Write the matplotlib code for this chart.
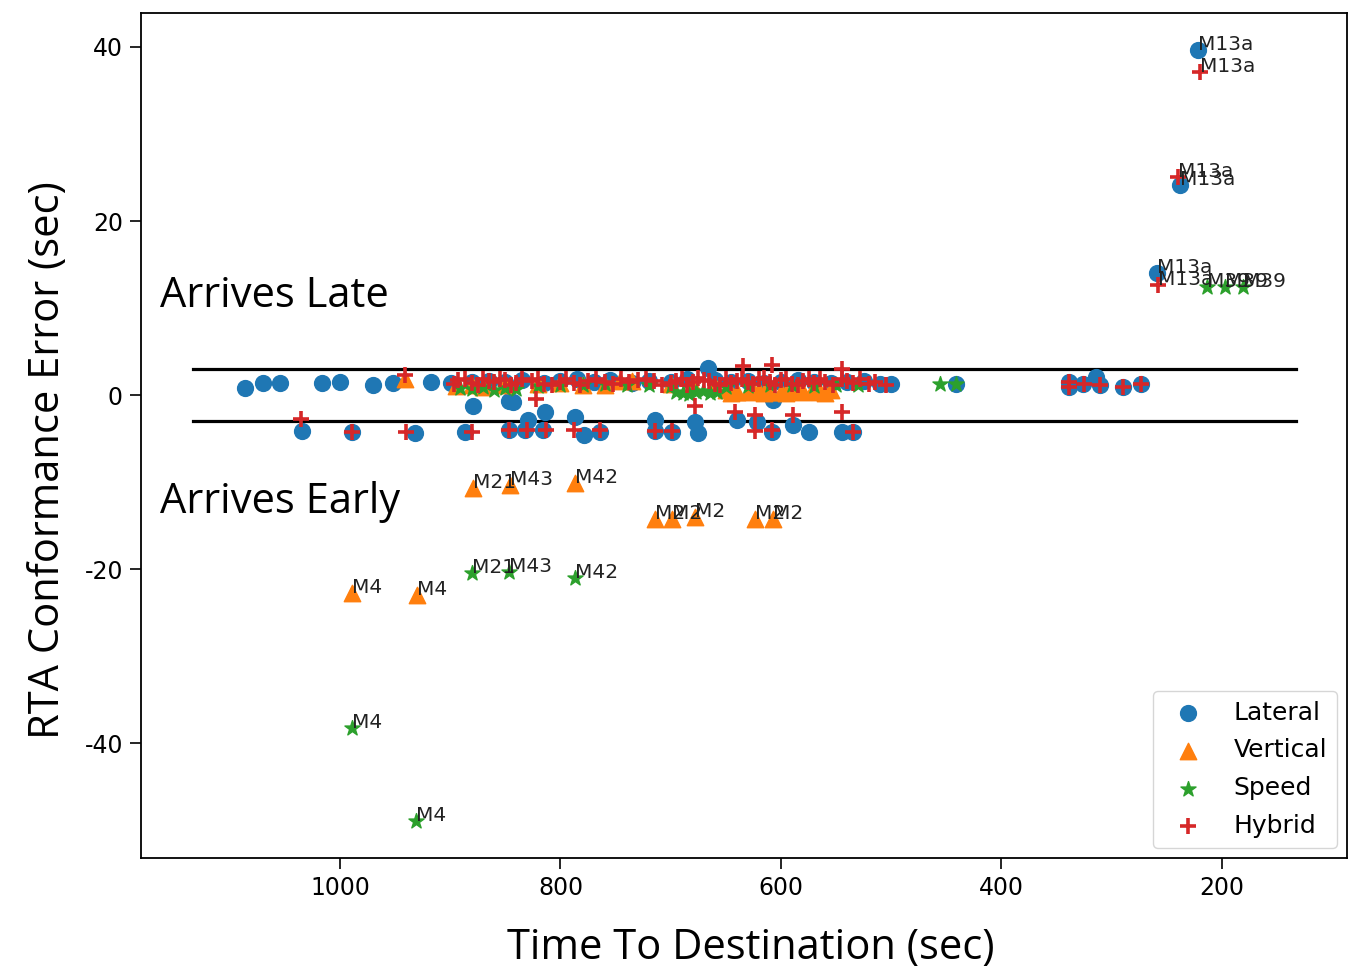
import matplotlib
matplotlib.use("Agg")
import matplotlib.pyplot as plt

# Lateral (circles)
lat_x = [1086, 1070, 1054, 1016, 1000, 970, 952, 917, 899,
         1034, 989, 932, 887, 847, 832, 816, 779, 764,
         879, 847, 843, 829, 814, 787,
         880, 865, 850, 835, 815, 800, 785, 770, 755, 735, 720, 700, 685, 666,
         660, 645, 630, 615, 600, 585, 570, 555, 540, 525, 510, 500,
         714, 714, 699, 678, 675, 640, 622, 608, 589, 575, 545, 535, 607,
         441, 339, 339, 326, 314, 311, 290, 273,
         221.5, 238, 259]
lat_y = [0.8, 1.4, 1.4, 1.4, 1.5, 1.2, 1.4, 1.5, 1.4,
         -4.1, -4.2, -4.4, -4.3, -4.0, -4.0, -4.0, -4.6, -4.2,
         -1.3, -0.7, -0.8, -2.9, -1.9, -2.5,
         1.5, 1.6, 1.5, 1.7, 1.4, 1.6, 1.8, 1.5, 1.7, 1.4, 1.6, 1.5, 1.8, 3.1,
         1.7, 1.5, 1.6, 1.4, 1.5, 1.7, 1.5, 1.4, 1.5, 1.6, 1.3, 1.3,
         -2.9, -4.1, -4.2, -3.1, -4.4, -2.9, -3.1, -4.2, -3.4, -4.2, -4.2, -4.2, -0.6,
         1.3, 1.5, 0.9, 1.3, 2.1, 1.1, 0.95, 1.3,
         39.6, 24.1, 14.0]
lat_lbl = [(221.5, 39.6, "M13a"), (238, 24.1, "M13a"), (259, 14.0, "M13a")]

# Vertical (triangles)
ver_x = [941, 895, 880, 870, 850, 820, 800, 780, 760, 746, 735, 700, 680, 660,
         650, 645, 640, 630, 625, 620, 615, 610, 600, 595, 590, 585, 580, 572,
         565, 560, 555,
         879, 846, 787, 714, 699, 678, 624, 607, 989, 930]
ver_y = [1.8, 1.0, 1.1, 0.9, 1.2, 1.3, 1.4, 1.2, 1.2, 1.6, 1.6, 1.3, 1.1, 1.0,
         0.6, 0.2, 0.4, 0.3, 0.6, 0.5, 0.2, 0.3, 0.4, 0.2, 0.5, 0.6, 0.3, 0.5,
         0.4, 0.2, 0.6,
         -10.7, -10.3, -10.1, -14.2, -14.2, -14.0, -14.2, -14.2, -22.8, -23.0]
ver_lbl = [(879, -10.7, "M21"), (846, -10.3, "M43"), (787, -10.1, "M42"),
           (714, -14.2, "M2"), (699, -14.2, "M2"), (678, -14.0, "M2"),
           (624, -14.2, "M2"), (607, -14.2, "M2"),
           (989, -22.8, "M4"), (930, -23.0, "M4")]

# Speed (stars)
spd_x = [891, 880, 870, 860, 850, 840, 820, 800, 780, 760, 740, 720, 700,
         695, 689, 683, 677, 671, 664, 658, 650, 630, 610, 590, 570, 550, 530,
         456, 441,
         214, 197, 181, 880.5, 847, 787, 989, 931]
spd_y = [0.8, 0.7, 0.9, 0.6, 0.8, 0.7, 1.0, 1.1, 1.2, 1.3, 1.2, 1.1, 1.0,
         0.4, 0.2, 0.1, 0.3, 0.5, 0.2, 0.3, 0.9, 1.0, 1.1, 1.2, 1.0, 1.1, 1.2,
         1.3, 1.3,
         12.4, 12.4, 12.4, -20.5, -20.3, -21.0, -38.3, -49.0]
spd_lbl = [(214, 12.4, "M39"), (197, 12.4, "M39"), (181, 12.4, "M39"),
           (880.5, -20.5, "M21"), (847, -20.3, "M43"), (787, -21.0, "M42"),
           (989, -38.3, "M4"), (931, -49.0, "M4")]

# Hybrid (crosses)
hyb_x = [1035, 989, 940, 880, 822, 847, 830, 813, 788, 764, 941,
         893, 880, 870, 860, 850, 840, 826, 815, 800, 788, 775, 760, 745, 730,
         715, 700, 690, 680, 670, 660, 650, 640, 630, 620, 610, 600, 590, 580,
         570, 560, 545, 535, 520, 505,
         897, 887, 875, 865, 855, 845, 835, 820, 808, 795, 782, 768, 752, 738,
         722, 708, 695, 685, 675, 665, 655, 645, 635, 625, 615, 605, 595, 585,
         575, 565, 553, 540, 528, 515,
         634, 608, 545,
         678, 714, 699, 642, 624, 624, 608, 589, 545, 535,
         339, 339, 325, 311, 290, 273,
         220, 240, 258]
hyb_y = [-2.7, -4.2, -4.3, -4.3, -0.4, -4.0, -4.0, -4.0, -4.0, -4.0, 2.3,
         1.7, 1.4, 1.8, 1.5, 1.7, 1.4, 1.6, 1.3, 1.5, 1.4, 1.6, 1.5, 1.9, 1.7,
         1.6, 1.4, 1.8, 1.5, 1.7, 1.3, 1.9, 1.6, 1.5, 1.8, 1.5, 1.7, 1.3, 1.6,
         1.4, 1.5, 1.8, 1.4, 1.3, 1.2,
         1.3, 1.9, 1.2, 1.6, 1.9, 1.2, 1.8, 1.9, 1.2, 1.8, 1.2, 1.9, 1.3, 1.5,
         1.9, 1.2, 1.6, 1.2, 2.0, 1.6, 1.2, 1.4, 1.9, 1.3, 2.0, 1.2, 1.9, 1.2,
         1.8, 1.9, 1.2, 1.6, 1.8, 1.5,
         3.3, 3.4, 3.0,
         -1.3, -4.1, -4.1, -1.9, -2.3, -4.1, -4.0, -2.3, -1.9, -4.2,
         1.5, 0.9, 1.3, 1.1, 0.95, 1.3,
         37.1, 25.1, 12.6]
hyb_lbl = [(220, 37.1, "M13a"), (240, 25.1, "M13a"), (258, 12.6, "M13a")]

band = 3
band_x = [1133, 133]

plt.rcParams["axes.unicode_minus"] = False

fig = plt.figure(figsize=(13.58, 9.8), dpi=100)
ax = fig.add_axes([0.1038, 0.1245, 0.8881, 0.8622])

ax.scatter(lat_x, lat_y, s=130, marker="o", color="#1f77b4", label="Lateral", zorder=3)
ax.scatter(ver_x, ver_y, s=140, marker="^", color="#ff7f0e", label="Vertical", zorder=3)
ax.scatter(spd_x, spd_y, s=130, marker="*", color="#2ca02c", label="Speed", zorder=3)
ax.scatter(hyb_x, hyb_y, s=130, marker="+", color="#d62728", linewidths=2.6,
           label="Hybrid", zorder=4)

for lbls in (lat_lbl, ver_lbl, spd_lbl, hyb_lbl):
    for x, y, t in lbls:
        ax.annotate(t, (x, y), fontsize=14.5, color="#222222", zorder=5)

ax.plot(band_x, [band, band], color="black", lw=2.3, zorder=2)
ax.plot(band_x, [-band, -band], color="black", lw=2.3, zorder=2)

ax.text(1163, 10.1, "Arrives Late", fontsize=30, family="Open Sans", va="baseline")
ax.text(1163, -13.5, "Arrives Early", fontsize=30, family="Open Sans", va="baseline")

ax.set_xlim(1180.5, 86.6)
ax.set_ylim(-53.2, 43.9)
ax.set_xticks([1000, 800, 600, 400, 200])
ax.set_yticks([40, 20, 0, -20, -40])
ax.tick_params(labelsize=17, length=8, width=1.2, pad=5)
for sp in ax.spines.values():
    sp.set_linewidth(1.3)

ax.legend(loc="lower right", fontsize=18, borderaxespad=0.4, labelspacing=0.55)

fig.text(751 / 1358, 1 - 948 / 980, "Time To Destination (sec)", fontsize=30,
         family="Open Sans", ha="center", va="center")
fig.text(48 / 1358, 1 - 460 / 980, "RTA Conformance Error (sec)", fontsize=30,
         family="Open Sans", ha="center", va="center", rotation=90)

fig.savefig("out.png", dpi=100, facecolor="white")
